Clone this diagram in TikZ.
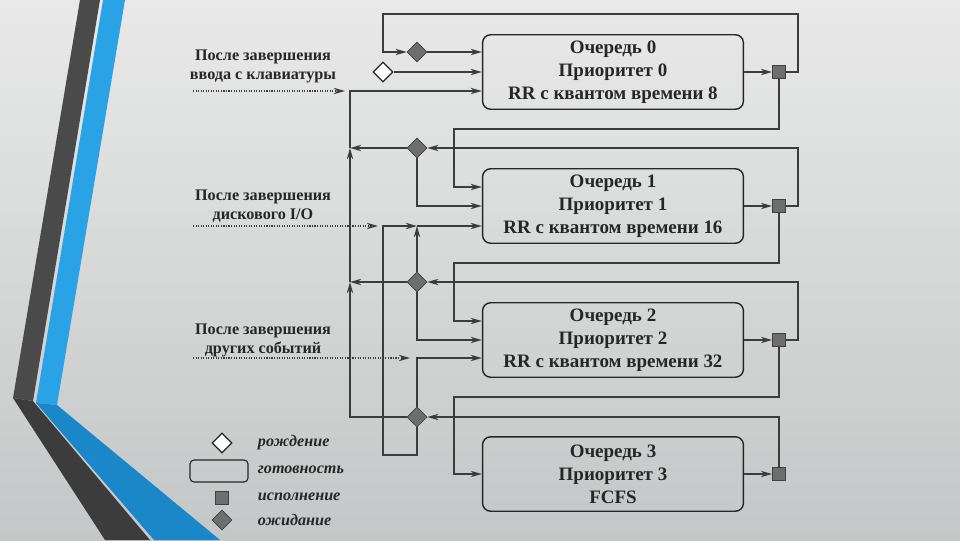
\documentclass[tikz,border=0pt]{standalone}
\usepackage{fontspec}
\setmainfont{Liberation Serif}
\usepackage{tikz}
\usetikzlibrary{shapes.geometric, arrows.meta}
\definecolor{BgTop}{RGB}{233,233,233}
\definecolor{BgBot}{RGB}{196,199,199}
\definecolor{StripeDark}{RGB}{74,74,74}
\definecolor{StripeDarkLow}{RGB}{60,60,60}
\definecolor{StripeBlue}{RGB}{42,163,230}
\definecolor{StripeBlueLow}{RGB}{26,135,201}
\definecolor{LineGray}{RGB}{60,60,60}
\definecolor{MarkGray}{RGB}{110,110,110}

\begin{document}
\begin{tikzpicture}[x=0.025cm, y=-0.025cm,
          box/.style={rectangle, draw=black!85, line width=1pt, rounded corners=0.2cm,
                      minimum width=6.52cm, minimum height=1.86cm, align=center,
                      font=\fontsize{13.5}{16.3}\selectfont\bfseries, text=black!85},
          exe/.style={rectangle, draw=black!75, fill=MarkGray, minimum size=0.33cm, inner sep=0pt},
          wt/.style={diamond, draw=black!75, fill=MarkGray, minimum size=0.5cm, inner sep=0pt},
          born/.style={diamond, draw=black!85, fill=white, minimum size=0.5cm, inner sep=0pt, line width=0.8pt},
          ln/.style={draw=LineGray, line width=1pt},
          arr/.style={ln, -{Stealth[length=8pt, width=4.5pt, inset=2.5pt, fill=MarkGray]}},
          evt/.style={draw=LineGray, densely dotted, line width=0.8pt,
                      -{Stealth[length=8pt, width=4.5pt, inset=2.5pt, fill=MarkGray]}},
          lbl/.style={align=center, font=\fontsize{11.5}{13.5}\selectfont\bfseries, text=black!85},
          lgd/.style={anchor=west, font=\fontsize{11.5}{13}\selectfont\bfseries\itshape, text=black!85}
        ]
        \useasboundingbox (0,0) rectangle (960,540);
        \shade[top color=BgTop, bottom color=BgBot] (0,0) rectangle (960,540);

        % side stripes
        \fill[StripeDark] (80,0) -- (100,0) -- (33,401) -- (13,398) -- cycle;
        \fill[StripeDarkLow] (13,398) -- (33,401) -- (150,540) -- (105,540) -- cycle;
        \fill[StripeBlue] (103,0) -- (125,0) -- (57,405) -- (36,403) -- cycle;
        \fill[StripeBlueLow] (36,403) -- (57,405) -- (220,540) -- (154,540) -- cycle;

        % queues
        \node[box] (q0) at (613,72)  {Очередь 0\\Приоритет 0\\RR с квантом времени 8};
        \node[box] (q1) at (613,206) {Очередь 1\\Приоритет 1\\RR с квантом времени 16};
        \node[box] (q2) at (613,340) {Очередь 2\\Приоритет 2\\RR с квантом времени 32};
        \node[box] (q3) at (613,474) {Очередь 3\\Приоритет 3\\FCFS};

        \node[exe] (s0) at (779,72)  {};
        \node[exe] (s1) at (779,206) {};
        \node[exe] (s2) at (779,340) {};
        \node[exe] (s3) at (779,474) {};

        \node[wt] (w0) at (417,52)  {};
        \node[wt] (w1) at (417,148) {};
        \node[wt] (w2) at (417,282) {};
        \node[wt] (w3) at (417,417) {};
        \node[born] (b0) at (383,72) {};

        \foreach \i in {0,...,3} {
          \draw[arr] (q\i.east) -- (s\i.west);
        }

        \coordinate (t0) at (798,14);   \coordinate (t1) at (383,14);
        \coordinate (r1) at (798,148);  \coordinate (r2) at (798,282);
        \coordinate (v0) at (350,91);   \coordinate (m1) at (350,148);
        \coordinate (m2) at (350,282);
        \coordinate (d0) at (454,129);  \coordinate (e0) at (454,187);
        \coordinate (d1) at (454,263);  \coordinate (e1) at (454,321);
        \coordinate (d2) at (454,397);
        \coordinate (u1) at (417,226);  \coordinate (u2) at (383,226);
        \coordinate (g0) at (383,455);  \coordinate (g1) at (417,455);
        \coordinate (u3) at (417,358);

        % back to waiting
        \draw[arr] (s0.east) -| (t0) -- (t1) |- (w0.west);
        \draw[arr] (s1.east) -| (r1) -- (w1.east);
        \draw[arr] (s2.east) -| (r2) -- (w2.east);
        \draw[arr] (s3.north) |- (w3.east);

        % quantum expired
        \draw[arr] (s0.south) |- (d0) -- (e0) -- (e0 -| q1.west);
        \draw[arr] (s1.south) |- (d1) -- (e1) -- (e1 -| q2.west);
        \draw[arr] (s2.south) |- (d2) |- (q3.west);

        % wake up
        \draw[arr] (w0.east) -- (w0 -| q0.west);
        \draw[arr] (b0.east) -- (b0 -| q0.west);
        \draw[arr] (w1.south) |- (q1.west);
        \draw[arr] (w2.south) |- (q2.west);
        \draw[arr] (w1.west) -- (m1);
        \draw[arr] (w2.west) -- (m2);
        \draw[arr] (w3.west) -| (m2);
        \draw[arr] (m2) -- (m1);
        \draw[arr] (m1) -- (v0) -- (v0 -| q0.west);
        \draw[arr] (w2.north) -- (u1);
        \draw[arr] (w3.south) -- (g1) -- (g0) -- (u2) -- (u1);
        \draw[arr] (u1) -- (u1 -| q1.west);
        \draw[arr] (w3.north) -- (u3) -- (u3 -| q2.west);

        % events
        \node[lbl] (l1) at (263,66)  {После завершения\\ввода с клавиатуры};
        \node[lbl] (l2) at (263,206) {После завершения\\дискового I/O};
        \node[lbl] (l3) at (263,340) {После завершения\\других событий};
        \coordinate (k1) at (193,91);   \coordinate (k1e) at (345,91);
        \coordinate (k2) at (193,226);  \coordinate (k2e) at (378,226);
        \coordinate (k3) at (193,358);  \coordinate (k3e) at (410,358);
        \draw[evt] (k1) -- (k1e);
        \draw[evt] (k2) -- (k2e);
        \draw[evt] (k3) -- (k3e);

        % legend
        \node[born] (lg1) at (222,443) {};
        \node[rectangle, draw=black!85, line width=0.8pt, rounded corners=0.1cm,
              minimum width=1.45cm, minimum height=0.55cm] (lg2) at (219,471) {};
        \node[exe] (lg3) at (222,498) {};
        \node[wt] (lg4) at (222,520) {};
        \node[lgd] (lt1) at (253,443) {рождение};
        \node[lgd] (lt2) at (253,470) {готовность};
        \node[lgd] (lt3) at (253,497) {исполнение};
        \node[lgd] (lt4) at (253,520) {ожидание};
      \end{tikzpicture}
\end{document}
